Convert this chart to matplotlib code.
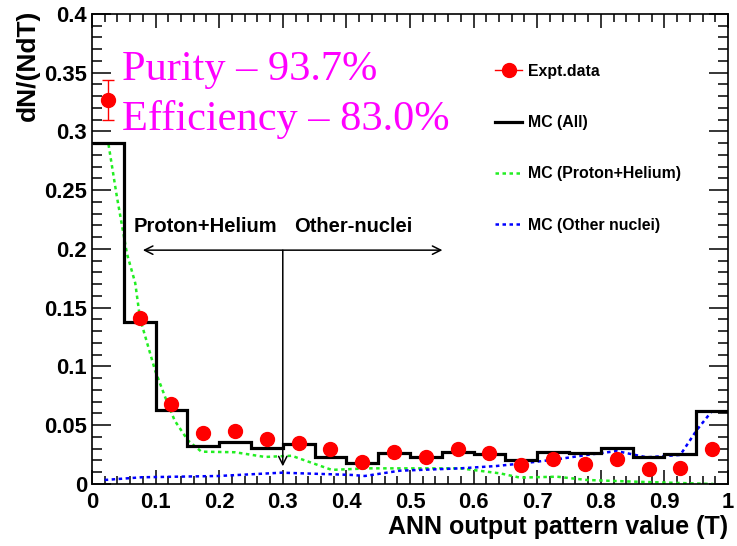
"""
ANN output pattern value distribution: experimental data compared with
Monte Carlo (all, proton+helium, other nuclei).
"""
import numpy as np
import matplotlib
matplotlib.use("Agg")
import matplotlib.pyplot as plt
from matplotlib.lines import Line2D
from matplotlib.ticker import MultipleLocator, FormatStrFormatter

# histogram bin edges (20 bins of 0.05)
bin_edges = np.linspace(0.0, 1.0, 21)
bin_centers = 0.5 * (bin_edges[:-1] + bin_edges[1:])

# MC (All) histogram contents
mc_all = [0.290, 0.138, 0.063, 0.032, 0.036, 0.031, 0.034, 0.023, 0.018, 0.026,
          0.023, 0.0275, 0.0255, 0.020, 0.0275, 0.0267, 0.031, 0.023, 0.0255, 0.0625]

# experimental data points and errors
expt = [0.327, 0.141, 0.068, 0.043, 0.045, 0.038, 0.035, 0.0295, 0.019, 0.027,
        0.0227, 0.0298, 0.026, 0.016, 0.021, 0.017, 0.021, 0.0125, 0.0133, 0.030]
expt_err = [0.017, 0.004, 0.003, 0.002, 0.002, 0.002, 0.002, 0.002, 0.002, 0.002,
            0.002, 0.002, 0.002, 0.002, 0.002, 0.002, 0.002, 0.002, 0.002, 0.002]

# smooth MC curves
ph_x = [0.026, 0.039, 0.055, 0.068, 0.0755, 0.099, 0.115, 0.130, 0.151, 0.172,
        0.225, 0.272, 0.314, 0.356, 0.377, 0.435, 0.484, 0.579, 0.642, 0.673,
        0.731, 0.778, 0.851, 0.977]
ph_y = [0.289, 0.245, 0.196, 0.171, 0.141, 0.097, 0.074, 0.054, 0.037, 0.0275,
        0.027, 0.023, 0.024, 0.016, 0.012, 0.0133, 0.0133, 0.0133, 0.009, 0.0054,
        0.0062, 0.0034, 0.002, 0.0]
other_x = [0.02, 0.078, 0.199, 0.298, 0.408, 0.429, 0.484, 0.579, 0.636, 0.678,
           0.731, 0.778, 0.825, 0.872, 0.925, 0.951, 0.974]
other_y = [0.0034, 0.0057, 0.0068, 0.0096, 0.0077, 0.0068, 0.0113, 0.0133, 0.0153,
           0.0176, 0.021, 0.0247, 0.028, 0.0227, 0.0247, 0.046, 0.0615]

plt.rcParams["font.family"] = ["Liberation Sans", "DejaVu Sans"]
plt.rcParams["font.weight"] = "bold"

fig = plt.figure(figsize=(7.37, 5.46), dpi=100)
ax = fig.add_axes([0.1248, 0.1136, 0.8630, 0.8608])

green = "#22ee22"
dots = (0, (1.4, 1.4))

ax.stairs(mc_all, bin_edges, baseline=None, color="black", linewidth=2.3, zorder=3)
ax.plot(ph_x, ph_y, color=green, linestyle=dots, linewidth=1.8, zorder=2)
ax.plot(other_x, other_y, color="blue", linestyle=dots, linewidth=1.8, zorder=2)
ax.errorbar(bin_centers, expt, yerr=expt_err, fmt="o", color="red", ecolor="red",
            markersize=10, elinewidth=1, capsize=4, capthick=1, zorder=4)

# region arrows
ax.annotate("", xy=(0.080, 0.199), xytext=(0.551, 0.199),
            arrowprops=dict(arrowstyle="<->,head_length=0.6,head_width=0.3",
                            color="black", lw=1.1, shrinkA=0, shrinkB=0))
ax.annotate("", xy=(0.3, 0.015), xytext=(0.3, 0.199),
            arrowprops=dict(arrowstyle="->,head_length=0.6,head_width=0.3",
                            color="black", lw=1.1, shrinkA=0, shrinkB=0))
ax.text(0.066, 0.2147, "Proton+Helium", fontsize=14.5, fontweight="bold")
ax.text(0.3176, 0.2147, "Other-nuclei", fontsize=14.5, fontweight="bold")

# purity / efficiency
ax.text(0.047, 0.344, "Purity \u2013 93.7%", color="#ff00ff", fontsize=30.5,
        family="Liberation Serif", fontweight="normal")
ax.text(0.047, 0.301, "Efficiency \u2013 83.0%", color="#ff00ff", fontsize=30.5,
        family="Liberation Serif", fontweight="normal")

handles = [
    Line2D([], [], color="red", marker="o", markersize=10, lw=1),
    Line2D([], [], color="black", lw=2.3),
    Line2D([], [], color=green, linestyle=dots, lw=1.8),
    Line2D([], [], color="blue", linestyle=dots, lw=1.8),
]
labels = ["Expt.data", "MC (All)", "MC (Proton+Helium)", "MC (Other nuclei)"]
ax.legend(handles, labels, loc="upper left", bbox_to_anchor=(0.612, 0.924),
          frameon=False, prop=dict(size=11.4, weight="bold"),
          handlelength=1.7, handletextpad=0.38, labelspacing=2.29)

ax.set_xlim(0, 1)
ax.set_ylim(0, 0.4)
ax.xaxis.set_major_locator(MultipleLocator(0.1))
ax.xaxis.set_minor_locator(MultipleLocator(0.02))
ax.yaxis.set_major_locator(MultipleLocator(0.05))
ax.yaxis.set_minor_locator(MultipleLocator(0.01))
ax.xaxis.set_major_formatter(FormatStrFormatter("%g"))
ax.yaxis.set_major_formatter(FormatStrFormatter("%g"))
ax.tick_params(which="both", direction="in", top=True, right=True, width=1.1,
               labelsize=15.8)
ax.tick_params(axis="x", which="major", length=10, pad=6)
ax.tick_params(axis="x", which="minor", length=5.5)
ax.tick_params(axis="y", which="major", length=14, pad=3.5)
ax.tick_params(axis="y", which="minor", length=7)
for s in ax.spines.values():
    s.set_linewidth(1.2)

ax.set_xlabel("ANN output pattern value (T)", fontsize=18, fontweight="bold",
              loc="right", labelpad=1)
fig.text(0.038, 0.983, "dN/(NdT)", rotation=90, ha="center", va="top",
         fontsize=19, fontweight="bold")

fig.savefig("out.png", dpi=100)
